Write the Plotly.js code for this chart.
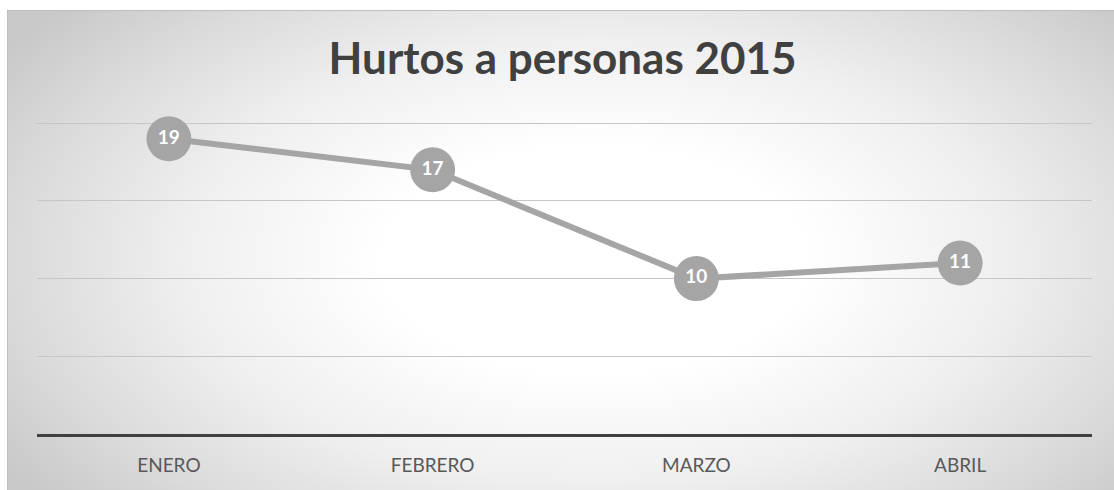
<!DOCTYPE html>
<html>
<head>
<meta charset="utf-8">
<script src="https://cdn.plot.ly/plotly-3.0.1.min.js"></script>
<style>
  html, body { margin: 0; padding: 0; background: #ffffff; }
  #wrap { position: relative; width: 1114px; height: 490px; overflow: hidden; }
  #bg {
    position: absolute; left: 7px; top: 10px; width: 1107px; height: 480px;
    box-sizing: border-box;
    border-top: 1px solid #bdbdbd; border-left: 1px solid #bdbdbd;
    background: radial-gradient(ellipse 64% 80% at 53% 52%, #ffffff 0%, #ffffff 30%, #efefef 58%, #dadada 82%, #c8c8c8 100%);
  }
  #chart { position: absolute; left: 0; top: 0; width: 1114px; height: 490px; }
</style>
</head>
<body>
<div id="wrap">
  <div id="bg"></div>
  <div id="chart"></div>
</div>
<script>
const months = ["ENERO", "FEBRERO", "MARZO", "ABRIL"];
const hurtos = [19, 17, 10, 11];
const chartTitle = "Hurtos a personas 2015";

const trace = {
  type: "scatter",
  mode: "lines+markers+text",
  x: months,
  y: hurtos,
  text: hurtos.map(String),
  textposition: "middle center",
  textfont: { family: "Lato, 'Open Sans', sans-serif", size: 19, color: "#ffffff", weight: "bold" },
  line: { color: "#a5a5a5", width: 6 },
  marker: { size: 45, color: "#a5a5a5" },
  cliponaxis: false,
  hoverinfo: "x+y"
};

const layout = {
  width: 1114,
  height: 490,
  paper_bgcolor: "rgba(0,0,0,0)",
  plot_bgcolor: "rgba(0,0,0,0)",
  margin: { l: 37, r: 22, t: 117, b: 56 },
  showlegend: false,
  title: {
    text: "<b>" + chartTitle + "</b>",
    font: { family: "Lato, 'Open Sans', sans-serif", size: 44, color: "#404040" },
    x: 0.505, xanchor: "center",
    y: 0.88, yanchor: "middle"
  },
  xaxis: {
    type: "category",
    range: [-0.5, 3.5],
    showgrid: false,
    zeroline: false,
    showline: true,
    linecolor: "#404040",
    linewidth: 3,
    ticks: "outside",
    ticklen: 12,
    tickcolor: "rgba(0,0,0,0)",
    tickfont: { family: "Lato, 'Open Sans', sans-serif", size: 19, color: "#595959" },
    fixedrange: true
  },
  yaxis: {
    range: [0, 20.4],
    tickvals: [0, 5, 10, 15, 20],
    showgrid: true,
    gridcolor: "#c6c6c6",
    gridwidth: 1,
    zeroline: false,
    showticklabels: false,
    showline: false,
    fixedrange: true
  }
};

Plotly.newPlot("chart", [trace], layout, { displayModeBar: false, staticPlot: true });
</script>
</body>
</html>
